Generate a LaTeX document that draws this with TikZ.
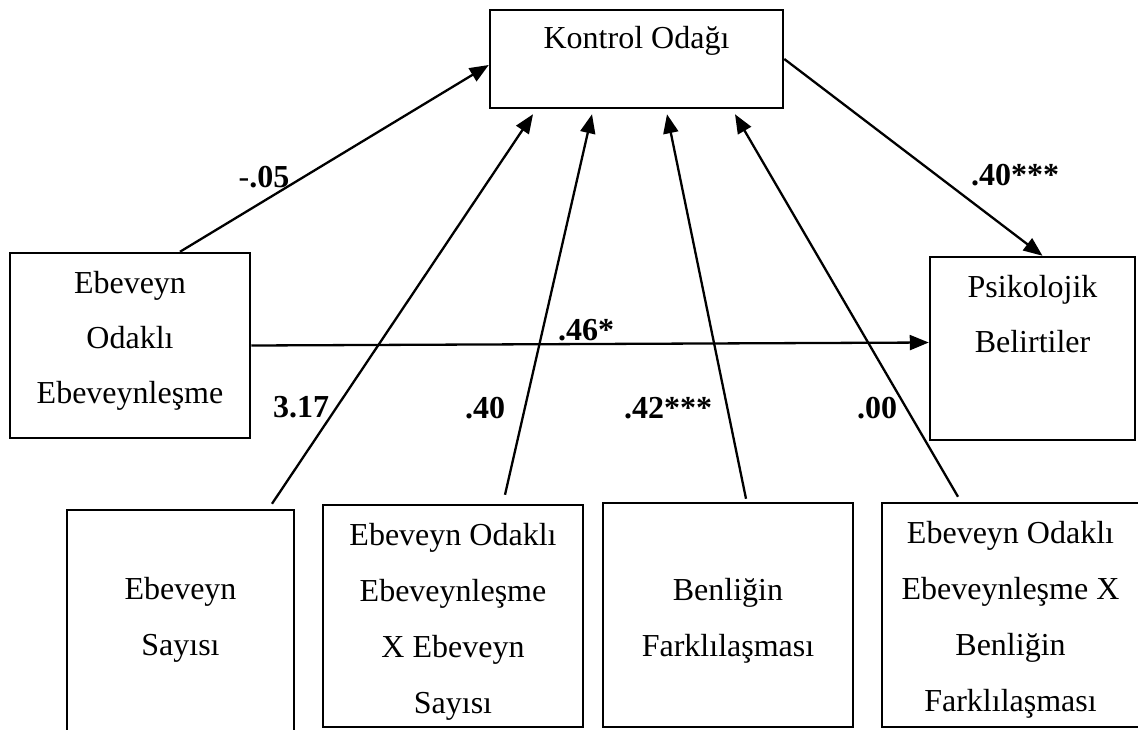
\documentclass[tikz,border=0pt]{standalone}
\usepackage{fontspec}
\setmainfont{Liberation Serif}
\usetikzlibrary{arrows.meta}
\newcommand{\mlines}[1]{\begin{tabular}[t]{@{}c@{}}#1\end{tabular}}
\begin{document}
\begin{tikzpicture}[x=0.5pt,y=-0.5pt,
  boxnode/.style 2 args={draw, line width=1.25pt, inner sep=0pt, minimum width=#1*0.5pt, minimum height=#2*0.5pt},
  txt/.style={anchor=base, inner sep=0pt, font=\fontsize{16}{28}\selectfont},
  txtb/.style={anchor=base, inner sep=0pt, font=\fontsize{16}{27.5}\selectfont},
  lab/.style={anchor=base, inner sep=0pt, font=\fontsize{16}{19}\selectfont\bfseries},
  arr/.style={line width=1.15pt, -{Triangle[length=9.5pt,width=7.5pt]}}]
\useasboundingbox (0,0) rectangle (1138,729);
\fill[white] (0,0) rectangle (1138,729);
% boxes
\node[boxnode={293}{98}] (ko) at (636.5,59) {};
\node[boxnode={240}{185}] (eo) at (130,345.5) {};
\node[boxnode={205}{183}] (ps) at (1032.5,348.5) {};
\node[boxnode={227}{235}] (b1) at (180.5,627.5) {};
\node[boxnode={260}{222}] (b2) at (453,616) {};
\node[boxnode={250}{224}] (b3) at (728,615) {};
\node[boxnode={257}{224}] (b4) at (1010.5,615) {};
% texts
\node[txt] (kot) at ([yshift=-20pt]ko.north) {Kontrol Odağı};
\node[txtb] (eot) at ([yshift=-21pt]eo.north) {\mlines{Ebeveyn\\Odaklı\\Ebeveynleşme}};
\node[txtb] (pst) at ([yshift=-21pt]ps.north) {\mlines{Psikolojik\\Belirtiler}};
\node[txt] (b1t) at ([yshift=-45.5pt]b1.north) {\mlines{Ebeveyn\\Sayısı}};
\node[txt] (b2t) at ([yshift=-21pt]b2.north) {\mlines{Ebeveyn Odaklı\\Ebeveynleşme\\X Ebeveyn\\Sayısı}};
\node[txt] (b3t) at ([yshift=-49.5pt]b3.north) {\mlines{Benliğin\\Farklılaşması}};
\node[txt] (b4t) at ([yshift=-21pt]b4.north) {\mlines{Ebeveyn Odaklı\\Ebeveynleşme X\\Benliğin\\Farklılaşması}};
% connectors
\draw[arr] ([xshift=25pt]eo.north) -- ([yshift=-3pt]ko.west);
\draw[arr] (ko.east) -- ([xshift=5pt]ps.north);
\draw[arr] (eo.east) -- ([yshift=3pt]ps.west);
\draw[arr] ([xshift=45.75pt,yshift=2.5pt]b1.north) -- ([xshift=-51.75pt,yshift=-2.5pt]ko.south);
\draw[arr] ([xshift=26pt,yshift=4.5pt]b2.north) -- ([xshift=-22.25pt,yshift=-2.5pt]ko.south);
\draw[arr] ([xshift=9pt,yshift=1.5pt]b3.north) -- ([xshift=15.25pt,yshift=-2.5pt]ko.south);
\draw[arr] ([xshift=-26.25pt,yshift=2.5pt]b4.north) -- ([xshift=49.25pt,yshift=-2.5pt]ko.south);
% labels
\node[lab] (l1) at (264,187) {\mdseries-\bfseries.05};
\node[lab] (l2) at (1015,185) {.40***};
\node[lab] (l3) at (586,340) {.46*};
\node[lab] (l4) at (301,417) {3.17};
\node[lab] (l5) at (485,418) {.40};
\node[lab] (l6) at (668,418) {.42***};
\node[lab] (l7) at (877,418) {.00};
\end{tikzpicture}
\end{document}
